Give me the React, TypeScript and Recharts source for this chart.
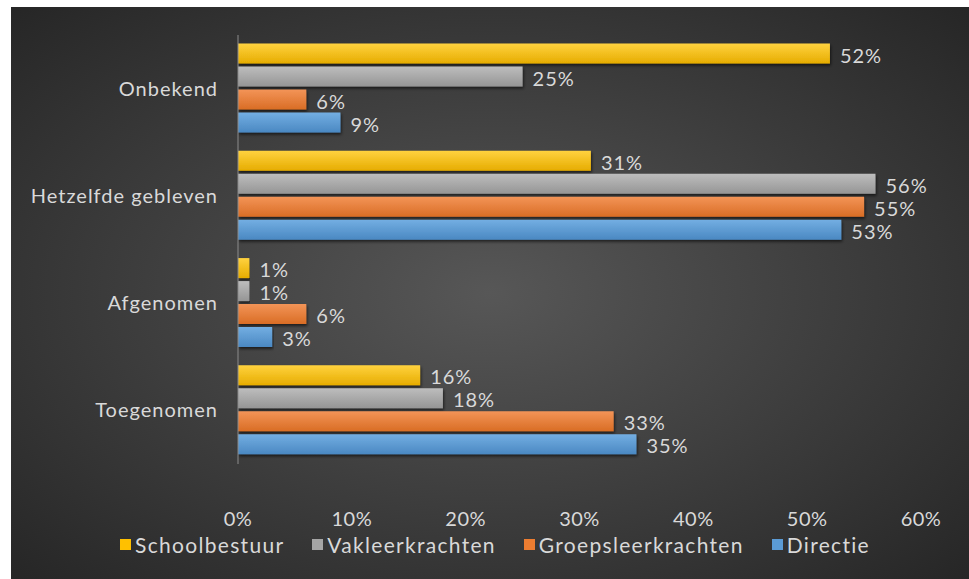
import React from "react";
import { BarChart, Bar, XAxis, YAxis, Legend, LabelList } from "recharts";

const categories = ["Onbekend", "Hetzelfde gebleven", "Afgenomen", "Toegenomen"];
const schoolbestuur = [52, 31, 1, 16];
const vakleerkrachten = [25, 56, 1, 18];
const groepsleerkrachten = [6, 55, 6, 33];
const directie = [9, 53, 3, 35];
const xTicks = [0, 10, 20, 30, 40, 50, 60];

const series = [
  { key: "Schoolbestuur", values: schoolbestuur, color: "#FFC000", light: "#FFD23F", dark: "#E6AC00" },
  { key: "Vakleerkrachten", values: vakleerkrachten, color: "#A5A5A5", light: "#BDBDBD", dark: "#959595" },
  { key: "Groepsleerkrachten", values: groepsleerkrachten, color: "#ED7D31", light: "#F39457", dark: "#D96D25" },
  { key: "Directie", values: directie, color: "#5B9BD5", light: "#73AEE2", dark: "#4A88C2" },
];

const data = categories.map((name, i) => {
  const row: Record<string, string | number> = { name };
  series.forEach((s) => (row[s.key] = s.values[i]));
  return row;
});

const textColor = "#D9D9D9";
const font = "Lato, 'Open Sans', sans-serif";

const renderLegend = () => (
  <div
    style={{
      display: "flex",
      justifyContent: "center",
      gap: 28,
      fontFamily: font,
      fontSize: 21,
      letterSpacing: 1.3,
      color: textColor,
      marginLeft: 58,
    }}
  >
    {series.map((s) => (
      <div key={s.key} style={{ display: "flex", alignItems: "center" }}>
        <span style={{ width: 11, height: 11, background: s.color, marginRight: 4, display: "inline-block" }} />
        {s.key}
      </div>
    ))}
  </div>
);

const App: React.FC = () => {
  return (
    <div
      style={{
        position: "absolute",
        left: 11,
        top: 7,
        width: 958,
        height: 572,
        background: "radial-gradient(ellipse at 50% 50%, #575757 0%, #3c3c3c 55%, #262626 100%)",
      }}
    >
      <BarChart
        width={958}
        height={572}
        data={data}
        layout="vertical"
        margin={{ top: 28, right: 48, bottom: 28, left: 0 }}
        barCategoryGap="8%"
        barGap={3}
      >
        <defs>
          {series.map((s) => (
            <linearGradient key={s.key} id={`grad-${s.key}`} x1="0" y1="0" x2="0" y2="1">
              <stop offset="0%" stopColor={s.light} />
              <stop offset="100%" stopColor={s.dark} />
            </linearGradient>
          ))}
          <filter id="barShadow" x="-5%" y="-20%" width="110%" height="160%">
            <feDropShadow dx="1" dy="2" stdDeviation="1.5" floodColor="#000" floodOpacity="0.6" />
          </filter>
        </defs>
        <XAxis
          type="number"
          domain={[0, 60]}
          ticks={xTicks}
          tickFormatter={(v: number) => `${v}%`}
          axisLine={false}
          tickLine={false}
          tickSize={0}
          tickMargin={48}
          height={62}
          tick={{ fill: textColor, fontSize: 20, fontFamily: font, letterSpacing: 0.5 }}
        />
        <YAxis
          type="category"
          dataKey="name"
          width={227}
          axisLine={{ stroke: "#8c8c8c", strokeWidth: 1 }}
          tickLine={false}
          tickSize={0}
          tickMargin={20}
          tick={{ fill: textColor, fontSize: 20, fontFamily: font, letterSpacing: 1 }}
        />
        <Legend verticalAlign="bottom" content={renderLegend} wrapperStyle={{ top: 525 }} />
        {series.map((s) => (
          <Bar
            key={s.key}
            dataKey={s.key}
            fill={`url(#grad-${s.key})`}
            filter="url(#barShadow)"
            isAnimationActive={false}
          >
            <LabelList
              dataKey={s.key}
              position="right"
              offset={10}
              formatter={(v: number) => `${v}%`}
              style={{ fill: textColor, fontSize: 20, fontFamily: font, letterSpacing: 1 }}
              dy={2}
            />
          </Bar>
        ))}
      </BarChart>
    </div>
  );
};

export default App;
